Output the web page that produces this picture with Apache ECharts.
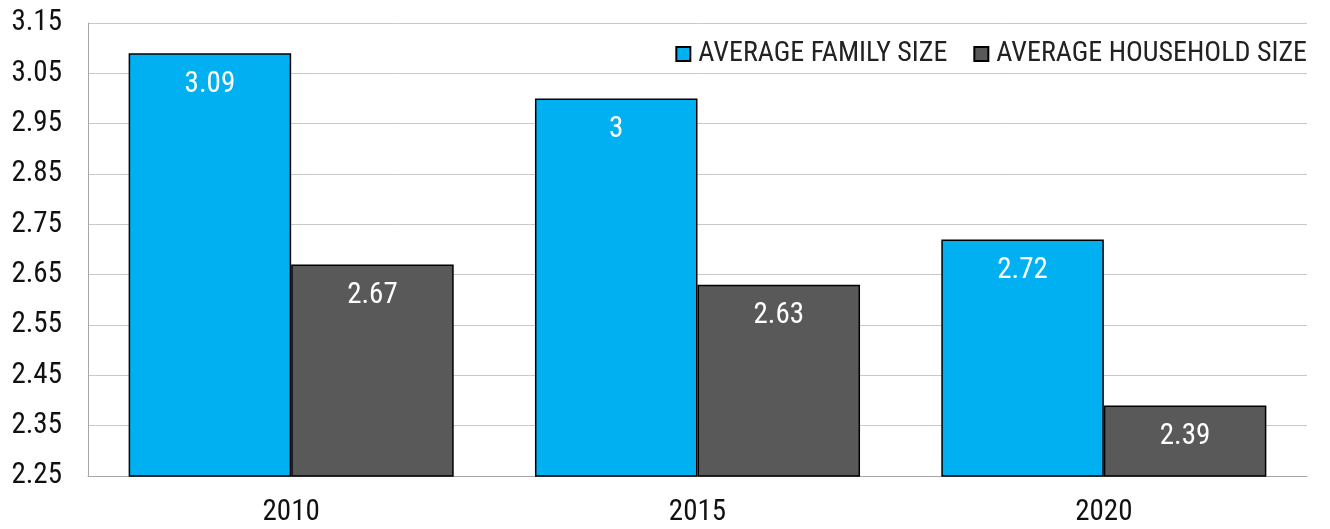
<!DOCTYPE html>
<html>
<head>
<meta charset="utf-8">
<script src="https://cdn.jsdelivr.net/npm/echarts@6/dist/echarts.min.js"></script>
<style>
html,body{margin:0;padding:0;background:#fff;}
#chartmain{width:1330px;height:529px;}
</style>
</head>
<body>
<div id="chartmain"></div>
<script>
var years = ['2010', '2015', '2020'];
var familySize = [3.09, 3.00, 2.72];
var householdSize = [2.67, 2.63, 2.39];
var seriesNames = ['AVERAGE FAMILY SIZE', 'AVERAGE HOUSEHOLD SIZE'];

var font = '"Roboto Condensed", "Liberation Sans Narrow", "DejaVu Sans Condensed", Roboto, sans-serif';

var myChart = echarts.init(document.getElementById('chartmain'));
var labelStyle = {
	show: true,
	position: 'insideTop',
	distance: 17,
	color: '#ffffff',
	fontSize: 29,
	fontFamily: font,
	formatter: function(p){ return String(p.value); }
};
var option = {
	animation: false,
	textStyle: {fontFamily: font},
	legend: {
		data: seriesNames,
		right: 18,
		top: 35,
		itemWidth: 14,
		itemHeight: 14,
		itemGap: 26,
		icon: 'rect',
		textStyle: {fontSize: 28, color: '#222222', fontFamily: font, padding: [0, 0, 0, 3]}
	},
	grid: {
		left: 88,
		right: 23,
		top: 23,
		bottom: 53,
		containLabel: false
	},
	xAxis: {
		type: 'category',
		data: years,
		axisLine: {show: true, lineStyle: {color: '#a6a6a6', width: 1}},
		axisTick: {show: false},
		axisLabel: {fontSize: 29, color: '#111111', margin: 22, fontFamily: font}
	},
	yAxis: {
		type: 'value',
		min: 2.25,
		max: 3.15,
		interval: 0.1,
		axisLine: {show: true, lineStyle: {color: '#a6a6a6', width: 1}},
		axisTick: {show: false},
		splitLine: {lineStyle: {color: '#c8c8c8', width: 1}},
		axisLabel: {
			fontSize: 29,
			color: '#111111',
			margin: 26,
			fontFamily: font,
			formatter: function(v){ return v.toFixed(2); }
		}
	},
	series: [
		{
			name: seriesNames[0],
			type: 'bar',
			data: familySize,
			barGap: '0%',
			barCategoryGap: '20%',
			itemStyle: {color: '#00B0F0', borderColor: '#000000', borderWidth: 1.5},
			label: labelStyle
		},
		{
			name: seriesNames[1],
			type: 'bar',
			data: householdSize,
			itemStyle: {color: '#595959', borderColor: '#000000', borderWidth: 1.5},
			label: labelStyle
		}
	]
};
myChart.setOption(option);
</script>
</body>
</html>
